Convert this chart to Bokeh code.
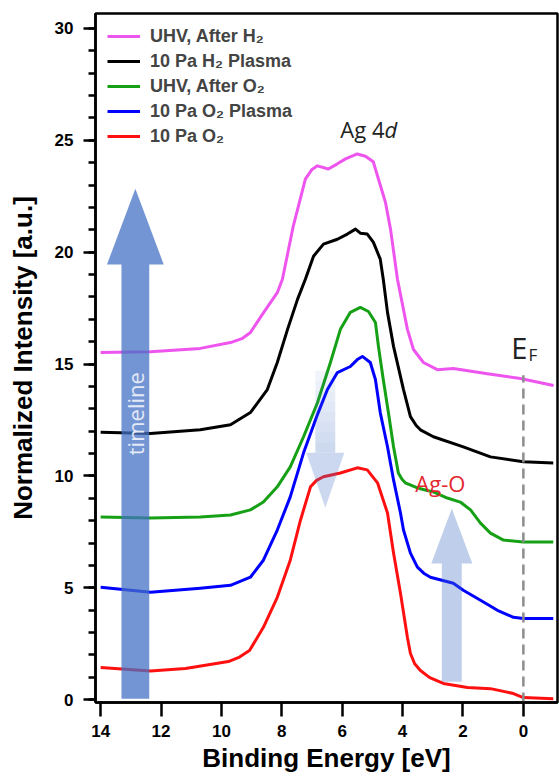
import math
from bokeh.plotting import figure
from bokeh.models import Range1d, SingleIntervalTicker, FixedTicker, Label
from bokeh.embed import file_html
from bokeh.resources import INLINE

# ---------------- data ----------------
uhv_after_h2_be = [14.0, 12.35, 10.7, 9.7, 9.3, 9.04, 8.61, 8.15, 7.98, 7.62, 7.22, 7.0, 6.82, 6.46, 6.16, 5.89,
                   5.50, 5.23, 4.97, 4.80, 4.57, 4.40, 4.17, 3.84, 3.64, 3.31, 2.85, 2.32, 1.19, 0.10, -1.0]
uhv_after_h2_int = [15.52, 15.55, 15.70, 15.96, 16.15, 16.41, 17.29, 18.19, 18.79, 21.17, 23.27, 23.70, 23.86, 23.72, 23.95, 24.17,
                    24.39, 24.29, 24.04, 23.27, 22.24, 21.03, 18.79, 16.55, 15.65, 15.07, 14.75, 14.80, 14.57, 14.35, 14.04]

h2_plasma_be = [14.0, 12.35, 10.7, 9.7, 9.04, 8.48, 8.15, 7.81, 7.48, 7.22, 6.95, 6.62, 6.16, 5.83, 5.56,
                5.40, 5.17, 4.97, 4.74, 4.64, 4.50, 4.30, 3.97, 3.74, 3.55, 3.41, 2.98, 1.99, 1.09, 0.0, -0.99]
h2_plasma_int = [11.95, 11.89, 12.06, 12.29, 12.83, 13.86, 15.07, 16.55, 17.89, 18.79, 19.82, 20.36, 20.58, 20.81, 21.03,
                 20.85, 20.81, 20.45, 19.69, 18.79, 17.31, 15.79, 13.86, 12.65, 12.25, 12.06, 11.75, 11.30, 10.85, 10.63, 10.58]

uhv_after_o2_be = [14.0, 12.35, 10.7, 9.7, 9.04, 8.61, 8.15, 7.72, 7.28, 6.82, 6.39, 6.06, 5.73, 5.40, 5.13, 4.90,
                   4.80, 4.64, 4.47, 4.30, 4.14, 4.02, 3.91, 3.51, 2.98, 2.52, 2.09, 1.75, 1.42, 1.09, 0.66, 0.0, -0.99]
uhv_after_o2_int = [8.16, 8.12, 8.16, 8.25, 8.48, 8.83, 9.51, 10.40, 11.75, 13.27, 15.07, 16.55, 17.31, 17.53, 17.35, 16.86,
                    15.79, 14.31, 12.83, 11.30, 10.13, 9.85, 9.69, 9.46, 9.28, 9.01, 8.83, 8.48, 7.89, 7.44, 7.13, 7.04, 7.04]

o2_plasma_be = [14.0, 12.35, 10.7, 9.7, 9.04, 8.61, 8.15, 7.72, 7.28, 6.82, 6.49, 6.16, 5.73, 5.50, 5.33, 5.07,
                4.90, 4.74, 4.50, 4.30, 4.07, 3.97, 3.74, 3.51, 3.30, 3.08, 2.32, 1.99, 1.42, 0.86, 0.33, 0.0, -0.99]
o2_plasma_int = [5.02, 4.80, 4.98, 5.11, 5.47, 6.23, 7.58, 9.06, 11.03, 12.74, 13.86, 14.62, 14.89, 15.20, 15.34, 15.07,
                 14.31, 12.83, 11.30, 9.82, 8.34, 7.58, 6.55, 5.92, 5.65, 5.47, 5.20, 4.89, 4.44, 3.99, 3.68, 3.63, 3.63]

o2_be = [14.0, 12.35, 11.19, 9.77, 9.40, 9.07, 8.61, 8.15, 7.72, 7.38, 7.05, 6.85, 6.62, 6.06, 5.50, 5.17, 4.83, 4.50,
         4.30, 4.07, 3.84, 3.74, 3.60, 3.41, 3.10, 2.65, 1.85, 1.09, 0.33, 0.0, -0.99]
o2_int = [1.44, 1.28, 1.39, 1.70, 1.90, 2.19, 3.23, 4.57, 6.23, 8.03, 9.51, 9.80, 9.96, 10.13, 10.36, 10.27, 9.69, 8.34,
          6.55, 4.75, 2.78, 2.06, 1.60, 1.30, 0.98, 0.72, 0.54, 0.49, 0.27, 0.09, 0.04]

series_labels = ["UHV, After H\u2082", "10 Pa H\u2082 Plasma", "UHV, After O\u2082",
                 "10 Pa O\u2082 Plasma", "10 Pa O\u2082"]
series_colors = ["#EE55EE", "#000000", "#16A016", "#0000FF", "#FF1010"]
series_be = [uhv_after_h2_be, h2_plasma_be, uhv_after_o2_be, o2_plasma_be, o2_be]
series_int = [uhv_after_h2_int, h2_plasma_int, uhv_after_o2_int, o2_plasma_int, o2_int]

x_ticks = [14, 12, 10, 8, 6, 4, 2, 0]
fermi_energy = 0.0

# ---------------- figure ----------------
p = figure(width=559, height=778, output_backend="svg", toolbar_location=None,
           x_range=Range1d(14.17, -1.13), y_range=Range1d(-0.13, 30.67),
           min_border_left=95, min_border_right=2, min_border_top=13, min_border_bottom=76,
           x_axis_label="Binding Energy [eV]", y_axis_label="Normalized Intensity [a.u.]")
p.grid.visible = False
p.outline_line_color = "black"
p.outline_line_width = 2.5
p.outline_line_alpha = 1.0
p.background_fill_color = "white"
p.border_fill_color = "white"

for be, inten, col, lab in zip(series_be, series_int, series_colors, series_labels):
    p.line(be, inten, line_color=col, line_width=3, legend_label=lab, line_join="round")

# Fermi level dashed line
ef_top = 14.5
p.segment(x0=[fermi_energy], y0=[-0.13], x1=[fermi_energy], y1=[ef_top],
          line_color="#8C8C8C", line_width=2.5, line_dash="10 6")


def arrow_poly(xc, shaft_hw, head_hw, y_tail, y_head_base, y_tip):
    xs = [xc - shaft_hw, xc - shaft_hw, xc - head_hw, xc, xc + head_hw, xc + shaft_hw, xc + shaft_hw]
    ys = [y_tail, y_head_base, y_head_base, y_tip, y_head_base, y_head_base, y_tail]
    return xs, ys

arrow_color = "#4472C4"
# timeline arrow
xs, ys = arrow_poly(12.85, 0.46, 0.94, 0.04, 19.45, 22.84)
p.patch(xs, ys, fill_color=arrow_color, fill_alpha=0.75, line_color=None)

# down arrow at main peak: shaft fades out toward its top
da_x, da_shaft, da_head, da_top, da_base, da_tip = 6.56, 0.33, 0.63, 14.7, 11.04, 8.58
n_slices = 8
for i in range(n_slices):
    y_hi = da_top - (da_top - da_base) * i / n_slices
    y_lo = da_top - (da_top - da_base) * (i + 1) / n_slices
    a = 0.06 + (0.28 - 0.06) * (i + 0.5) / n_slices
    p.quad(left=[da_x - da_shaft], right=[da_x + da_shaft], top=[y_hi], bottom=[y_lo],
           fill_color=arrow_color, fill_alpha=a, line_color=None)
p.patch([da_x - da_head, da_x, da_x + da_head], [da_base, da_tip, da_base],
        fill_color=arrow_color, fill_alpha=0.28, line_color=None)

# up arrow at Ag-O
xs, ys = arrow_poly(2.37, 0.33, 0.68, 0.8, 6.08, 8.54)
p.patch(xs, ys, fill_color=arrow_color, fill_alpha=0.34, line_color=None)

# ---------------- axes ----------------
p.xaxis.ticker = FixedTicker(ticks=x_ticks, minor_ticks=[])
p.yaxis.ticker = SingleIntervalTicker(interval=5, num_minor_ticks=5)
for ax in (p.xaxis[0], p.yaxis[0]):
    ax.axis_line_width = 2.5
    ax.axis_line_color = "black"
    ax.major_tick_line_width = 2.5
    ax.minor_tick_line_width = 2.5
    ax.major_tick_in = 0
    ax.minor_tick_in = 0
    ax.major_label_text_font = "Liberation Sans"
    ax.major_label_text_font_style = "bold"
    ax.major_label_text_font_size = "17px"
    ax.major_label_text_color = "black"
    ax.axis_label_text_font = "Liberation Sans"
    ax.axis_label_text_font_style = "bold"
    ax.axis_label_text_font_size = "26px"
    ax.axis_label_text_color = "black"
p.xaxis.major_tick_out = 14
p.xaxis.major_label_standoff = 8
p.xaxis.axis_label_standoff = 3
p.yaxis.major_tick_out = 12
p.yaxis.minor_tick_out = 7
p.yaxis.major_label_standoff = 10
p.yaxis.axis_label_standoff = 14

# ---------------- legend ----------------
leg = p.legend[0]
leg.location = "top_left"
leg.margin = 0
leg.padding = 12
leg.spacing = 3
leg.glyph_width = 33
leg.glyph_height = 22
leg.label_height = 22
leg.label_standoff = 10
leg.label_text_font = "Liberation Sans"
leg.label_text_font_style = "bold"
leg.label_text_font_size = "18px"
leg.border_line_alpha = 0
leg.background_fill_alpha = 0

# ---------------- text labels ----------------
p.add_layout(Label(x=4.60, y=25.5, text="Ag 4", text_align="right", text_baseline="alphabetic",
                   text_font="Open Sans", text_font_size="22px", text_color="#222222"))
p.add_layout(Label(x=4.60, y=25.5, text="d", text_align="left", text_baseline="alphabetic",
                   text_font="Open Sans", text_font_size="22px", text_font_style="italic", text_color="#222222"))
p.add_layout(Label(x=-0.13, y=15.75, text="E", text_align="right", text_baseline="alphabetic",
                   text_font="Open Sans", text_font_size="29px", text_color="#222222"))
p.add_layout(Label(x=-0.17, y=15.42, text="F", text_align="left", text_baseline="alphabetic",
                   text_font="Open Sans", text_font_size="17px", text_color="#222222"))
p.add_layout(Label(x=3.58, y=9.66, text="Ag-O", text_align="left", text_baseline="alphabetic",
                   text_font="Open Sans", text_font_size="22px", text_color="#E3262E"))
p.add_layout(Label(x=12.85, y=12.78, text="timeline", angle=math.pi / 2, text_align="center",
                   text_baseline="middle", text_font="Open Sans", text_font_size="22px",
                   text_color="#E4EAF7"))

open("out.html", "w").write(file_html(p, INLINE))
